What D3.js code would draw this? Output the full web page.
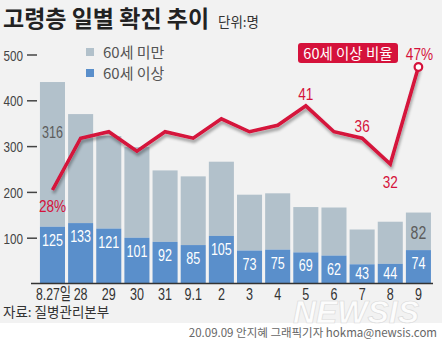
<!DOCTYPE html>
<html><head><meta charset="utf-8">
<script src="https://cdn.jsdelivr.net/npm/d3@7"></script>
<style>
html,body{margin:0;padding:0;background:#fff;}
svg{display:block;}
</style></head>
<body>
<script>
const categories = ["8.27일","28","29","30","31","9.1","2","3","4","5","6","7","8","9"];
const over60 = [125,133,121,101,92,85,105,73,75,69,62,43,44,74];
const under60 = [316,238,202,198,156,150,162,122,123,99,105,76,92,82];
const ratio = [28,36,37,34,37,36,39,37,38,41,37,36,32,47];
const ratioLabels = {0:"28%",9:"41",11:"36",12:"32",13:"47%"};
const under60Labels = {0:"316",13:"82"};
const yTicks = [100,200,300,400,500];

const W=442,H=340;
const svg=d3.select("body").append("svg").attr("width",W).attr("height",H);
const CJK="'Noto Sans CJK KR', sans-serif";
const NUM="'Liberation Sans','Noto Sans CJK KR', sans-serif";
const SX=0.74;

function ctext(g,x,y,anchor,size,fill,txt,sx){
  return g.append("text").attr("transform",`translate(${x},${y}) scale(${sx||SX},1)`)
    .attr("text-anchor",anchor).attr("font-family",NUM).attr("font-size",size).attr("fill",fill).text(txt);
}

svg.append("rect").attr("width",W).attr("height",323).attr("fill","#f2f2f2");
svg.append("rect").attr("y",323).attr("width",W).attr("height",H-323).attr("fill","#ffffff");

const defs=svg.append("defs");
const f=defs.append("filter").attr("id","sh").attr("x","-10%").attr("y","-20%").attr("width","120%").attr("height","160%");
f.append("feGaussianBlur").attr("in","SourceAlpha").attr("stdDeviation",1.6).attr("result","b");
f.append("feOffset").attr("dx",1).attr("dy",3).attr("result","o");
f.append("feComponentTransfer").append("feFuncA").attr("type","linear").attr("slope",0.35);
const m=f.append("feMerge");m.append("feMergeNode");m.append("feMergeNode").attr("in","SourceGraphic");

const x=d3.scaleBand().domain(categories).range([38.4,432.5]).paddingInner(0.11).paddingOuter(0.055);
const y=d3.scaleLinear().domain([0,500]).range([284,55]);
const yr=d3.scaleLinear().domain([28,47]).range([190,67]);

// title
svg.append("text").attr("x",3).attr("y",27).attr("font-family",CJK).attr("font-weight",700)
  .attr("font-size",23).attr("fill","#222").text("고령층 일별 확진 추이");
svg.append("text").attr("x",218).attr("y",27).attr("font-family",CJK)
  .attr("font-size",13.5).attr("fill","#333").text("단위:명");

// y axis ticks
const ya=svg.append("g");
yTicks.forEach(t=>{
  ya.append("line").attr("x1",27).attr("x2",37).attr("y1",y(t)).attr("y2",y(t)).attr("stroke","#444").attr("stroke-width",1.5);
  ctext(ya,23,y(t)+5.5,"end",15,"#444",t,0.78);
});

// bars
const bars=svg.append("g");
categories.forEach((c,i)=>{
  const tot=over60[i]+under60[i];
  const cx=x(c)+x.bandwidth()/2;
  bars.append("rect").attr("x",x(c)).attr("width",x.bandwidth()).attr("y",y(tot)).attr("height",y(over60[i])-y(tot)).attr("fill","#b2c1cb");
  bars.append("rect").attr("x",x(c)).attr("width",x.bandwidth()).attr("y",y(over60[i])).attr("height",y(0)-y(over60[i])).attr("fill","#5a8fcb");
  const by=Math.min(y(over60[i])+19,279);
  ctext(bars,cx,by,"middle",17,"#fff",over60[i]);
  if(under60Labels[i]!==undefined){
    const ly = i===0 ? y(tot)+56 : y(tot)+26;
    ctext(bars,cx,ly,"middle",i===0?17:19,"#5c5c5c",under60Labels[i]);
  }
  if(i===0) ctext(svg,36,300,"start",17,"#333",c,0.72);
  else ctext(svg,cx,300,"middle",17,"#333",c);
});
svg.append("line").attr("x1",31).attr("x2",433).attr("y1",283.5).attr("y2",283.5).attr("stroke","#333").attr("stroke-width",1.5);

// legend
svg.append("rect").attr("x",86).attr("y",48).attr("width",8).attr("height",8).attr("fill","#b2c1cb");
svg.append("rect").attr("x",86).attr("y",69).attr("width",8).attr("height",8).attr("fill","#5a8fcb");
svg.append("text").attr("x",103).attr("y",58).attr("font-family",CJK).attr("font-size",15).attr("fill","#555").text("60세 미만");
svg.append("text").attr("x",103).attr("y",79).attr("font-family",CJK).attr("font-size",15).attr("fill","#555").text("60세 이상");

// ratio line
const RED="#d5123b";
const line=d3.line().x((d,i)=>x(categories[i])+x.bandwidth()/2).y(d=>yr(d));
svg.append("path").datum(ratio).attr("d",line).attr("fill","none").attr("stroke",RED)
  .attr("stroke-width",3.5).attr("stroke-linejoin","miter").attr("filter","url(#sh)");
const li=ratio.length-1;
svg.append("circle").attr("cx",x(categories[li])+x.bandwidth()/2).attr("cy",yr(ratio[li])).attr("r",3.8)
  .attr("fill","#fff").attr("stroke",RED).attr("stroke-width",2.2);

const lblPos={0:[0,22],9:[0,-6],11:[0,-6],12:[0,24],13:[1,-7]};
Object.keys(ratioLabels).forEach(k=>{
  const i=+k;
  ctext(svg,x(categories[i])+x.bandwidth()/2+lblPos[i][0],yr(ratio[i])+lblPos[i][1],"middle",17,RED,ratioLabels[k],0.8);
});

// red badge
svg.append("rect").attr("x",298).attr("y",43).attr("width",100).attr("height",20).attr("rx",3).attr("fill",RED);
svg.append("text").attr("x",348).attr("y",58.5).attr("text-anchor","middle").attr("font-family",CJK)
  .attr("font-size",14.5).attr("fill","#fff").text("60세 이상 비율");

// source
svg.append("text").attr("x",3).attr("y",317).attr("font-family",CJK).attr("font-size",13.5).attr("fill","#333").text("자료: 질병관리본부");

// watermark
svg.append("text").attr("x",356).attr("y",323).attr("text-anchor","middle").attr("font-family","'Liberation Sans', sans-serif")
  .attr("font-weight",700).attr("font-style","italic").attr("font-size",31).attr("textLength",126)
  .attr("lengthAdjust","spacingAndGlyphs").attr("fill","#ffffff").attr("fill-opacity",0.85)
  .attr("stroke","#d8d8d8").attr("stroke-width",0.6).text("NEWSIS");

// credit
svg.append("text").attr("x",437).attr("y",337).attr("text-anchor","end").attr("font-family",CJK)
  .attr("font-size",11.5).attr("fill","#666").text("20.09.09 안지혜 그래픽기자 hokma@newsis.com");
</script>
</body></html>
